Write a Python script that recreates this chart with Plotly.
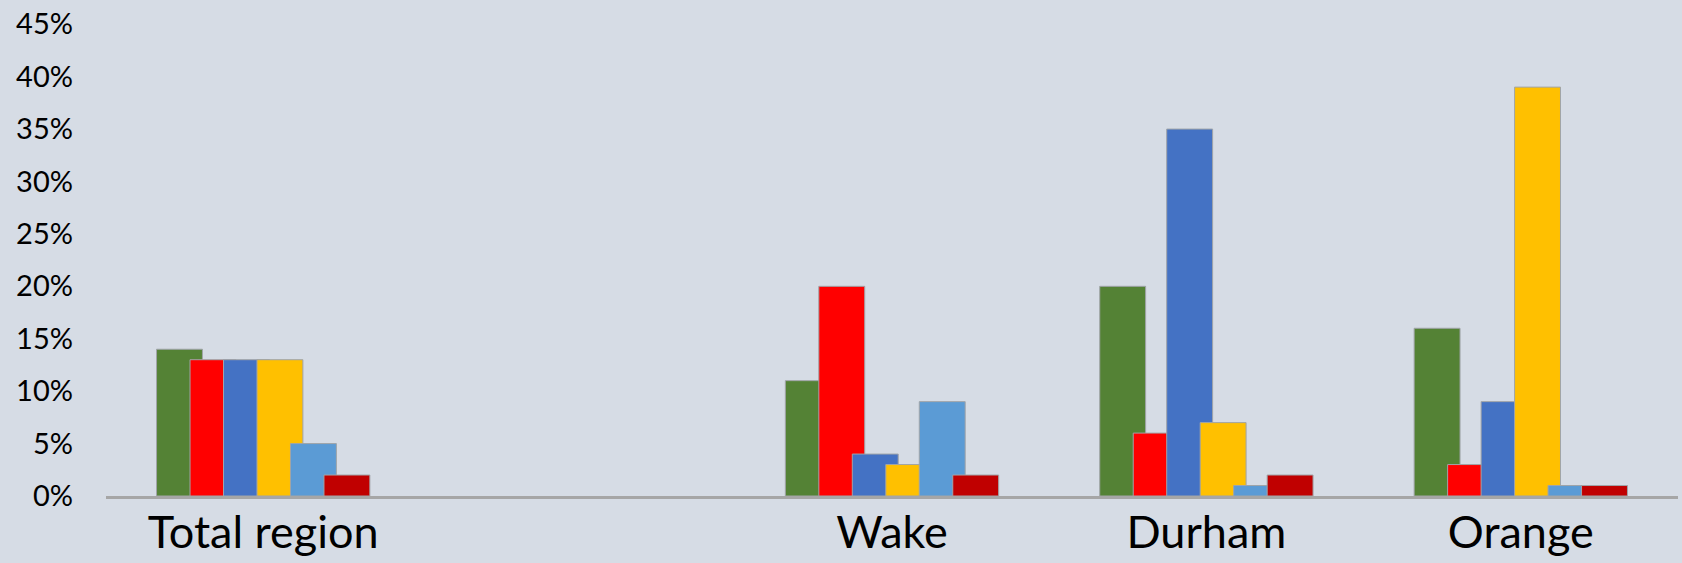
import plotly.graph_objects as go

categories = ["Total region", " ", "Wake", "Durham", "Orange"]
series_names = ["Series 1", "Series 2", "Series 3", "Series 4", "Series 5", "Series 6"]
series_values = [
    [0.14, None, 0.11, 0.20, 0.16],
    [0.13, None, 0.20, 0.06, 0.03],
    [0.13, None, 0.04, 0.35, 0.09],
    [0.13, None, 0.03, 0.07, 0.39],
    [0.05, None, 0.09, 0.01, 0.01],
    [0.02, None, 0.02, 0.02, 0.01],
]
colors = ["#548235", "#FF0000", "#4472C4", "#FFC000", "#5B9BD5", "#C00000"]
tick_vals = [0, 0.05, 0.10, 0.15, 0.20, 0.25, 0.30, 0.35, 0.40, 0.45]

bar_width = 0.146
step = 0.1065
start = -(step * (len(series_values) - 1) + bar_width) / 2

fig = go.Figure()
for i, (name, vals, col) in enumerate(zip(series_names, series_values, colors)):
    fig.add_trace(go.Bar(
        x=categories, y=vals, name=name,
        marker=dict(color=col, line=dict(color="#A0A4A8", width=1)),
        width=bar_width, offset=start + i * step,
    ))

bg = "#D6DCE5"
fig.update_layout(
    width=1682, height=563,
    barmode="overlay",
    showlegend=False,
    paper_bgcolor=bg, plot_bgcolor=bg,
    margin=dict(l=106, r=4, t=24, b=67),
    font=dict(family="Lato, Carlito, sans-serif", color="#000000"),
    xaxis=dict(
        type="category", categoryorder="array", categoryarray=categories,
        showline=True, linecolor="#A6A6A6", linewidth=3,
        showgrid=False, ticks="", tickfont=dict(size=45),
        ticklabelstandoff=-5, automargin=False,
    ),
    yaxis=dict(
        range=[0, 0.4502], tickvals=tick_vals, tickformat=".0%",
        showgrid=False, zeroline=False, showline=False,
        tickfont=dict(size=29), ticklabelstandoff=32, automargin=False,
        ticklabeloverflow="allow",
    ),
)

fig.write_html(
    "out.html",
    config={"displayModeBar": False},
    post_script="document.body.style.margin='0';document.body.style.background='#D6DCE5';document.body.style.overflow='hidden';",
)
